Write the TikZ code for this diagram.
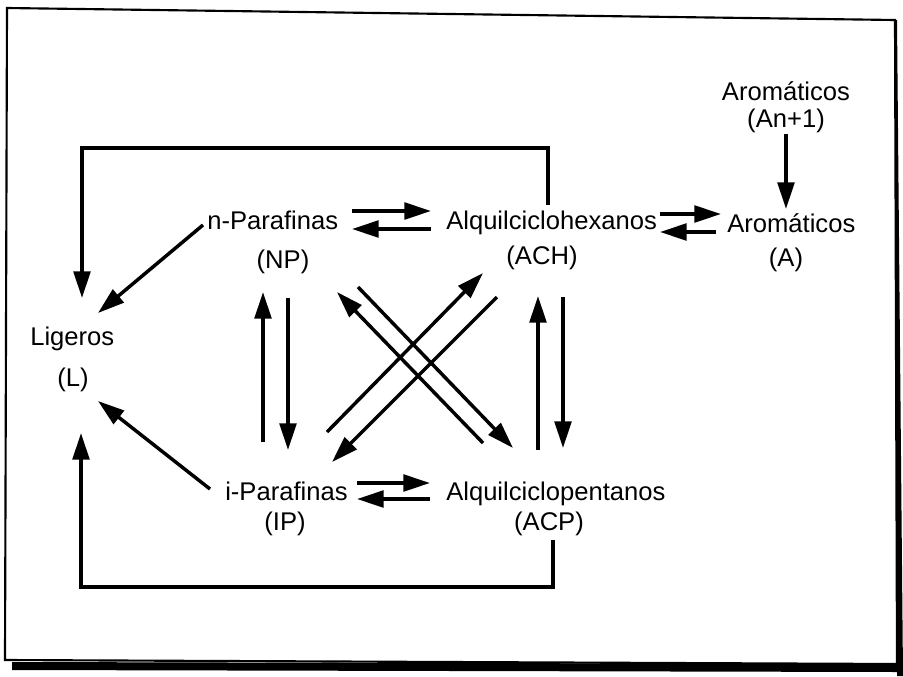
\documentclass[tikz,border=0pt]{standalone}
\usepackage{fontspec}
\setmainfont{Liberation Sans}
\usetikzlibrary{arrows.meta}
\begin{document}
\begin{tikzpicture}[x=0.75pt,y=-0.75pt,
  lbl/.style={font=\fontsize{19.2}{23}\selectfont, inner sep=0pt},
  ln/.style={line width=2.6pt},
  arr/.style={line width=2.6pt, -{Triangle[length=20pt,width=12.5pt]}}]
\useasboundingbox (0,0) rectangle (903,676);
% frame
\draw[line width=1.6pt] (7,8) -- (895,20) -- (897,664) -- (5,660) -- cycle;
\fill (12,662) -- (898,664) -- (898,672) -- (12,670) -- cycle;
\fill (895,20) -- (897,20) -- (903,676) -- (897,676) -- cycle;
% labels
\node[lbl, anchor=base west] (np) at (207,229) {n-Parafinas};
\node[lbl, anchor=base] (npl) at (283,268) {(NP)};
\node[lbl, anchor=base west] (ach) at (446,229) {Alquilciclohexanos};
\node[lbl, anchor=base] (achl) at (542,264) {(ACH)};
\node[lbl, anchor=base west] (a) at (727,232) {Aromáticos};
\node[lbl, anchor=base] (al) at (786,266) {(A)};
\node[lbl, anchor=base] (an) at (786,100) {Aromáticos};
\node[lbl, anchor=base] (anl) at (786,127) {(An+1)};
\node[lbl, anchor=base west] (l) at (30,345) {Ligeros};
\node[lbl, anchor=base] (ll) at (73,386) {(L)};
\node[lbl, anchor=base west] (ip) at (225,500) {i-Parafinas};
\node[lbl, anchor=base] (ipl) at (285,530) {(IP)};
\node[lbl, anchor=base west] (acp) at (446,500) {Alquilciclopentanos};
\node[lbl, anchor=base] (acpl) at (549,530) {(ACP)};
% endpoints
\coordinate (npR1) at (352,211); \coordinate (achL1) at (431,211);
\coordinate (achL2) at (431,229); \coordinate (npR2) at (352,229);
\coordinate (achR1) at (660,214); \coordinate (aL1) at (721,214);
\coordinate (aL2) at (716,232); \coordinate (achR2) at (660,232);
\coordinate (ipR1) at (357,483); \coordinate (acpL1) at (430,483);
\coordinate (acpL2) at (430,499); \coordinate (ipR2) at (357,499);
\coordinate (ipT1) at (263,442); \coordinate (npB1) at (263,292);
\coordinate (npB2) at (288,298); \coordinate (ipT2) at (288,450);
\coordinate (acpT1) at (538,450); \coordinate (achB1) at (538,296);
\coordinate (achB2) at (563,297); \coordinate (acpT2) at (563,448);
\coordinate (ipD1) at (327,432); \coordinate (achD1) at (483,273);
\coordinate (achD2) at (497,297); \coordinate (ipD2) at (332,462);
\coordinate (acpD1) at (483,443); \coordinate (npD1) at (337,292);
\coordinate (npD2) at (358,287); \coordinate (acpD2) at (513,448);
\coordinate (npLf) at (203,225); \coordinate (lNE) at (98,313);
\coordinate (ipLf) at (210,489); \coordinate (lSE) at (98,401);
\coordinate (achTop) at (548,205); \coordinate (lTop) at (82,298);
\coordinate (acpBot) at (553,540); \coordinate (lBot) at (81,433);
\coordinate (anB) at (786,134); \coordinate (aT) at (786,209);
% connectors
\draw[arr] (npR1) -- (achL1);
\draw[arr] (achL2) -- (npR2);
\draw[arr] (achR1) -- (aL1);
\draw[arr] (aL2) -- (achR2);
\draw[arr] (ipR1) -- (acpL1);
\draw[arr] (acpL2) -- (ipR2);
\draw[arr] (ipT1) -- (npB1);
\draw[arr] (npB2) -- (ipT2);
\draw[arr] (acpT1) -- (achB1);
\draw[arr] (achB2) -- (acpT2);
\draw[arr] (ipD1) -- (achD1);
\draw[arr] (achD2) -- (ipD2);
\draw[arr] (acpD1) -- (npD1);
\draw[arr] (npD2) -- (acpD2);
\draw[arr] (npLf) -- (lNE);
\draw[arr] (ipLf) -- (lSE);
\draw[arr, line join=miter] (achTop) -- (548,148) -- (82,148) -- (lTop);
\draw[arr, line join=miter] (acpBot) -- (553,587) -- (81,587) -- (lBot);
\draw[arr] (anB) -- (aT);
\end{tikzpicture}
\end{document}
